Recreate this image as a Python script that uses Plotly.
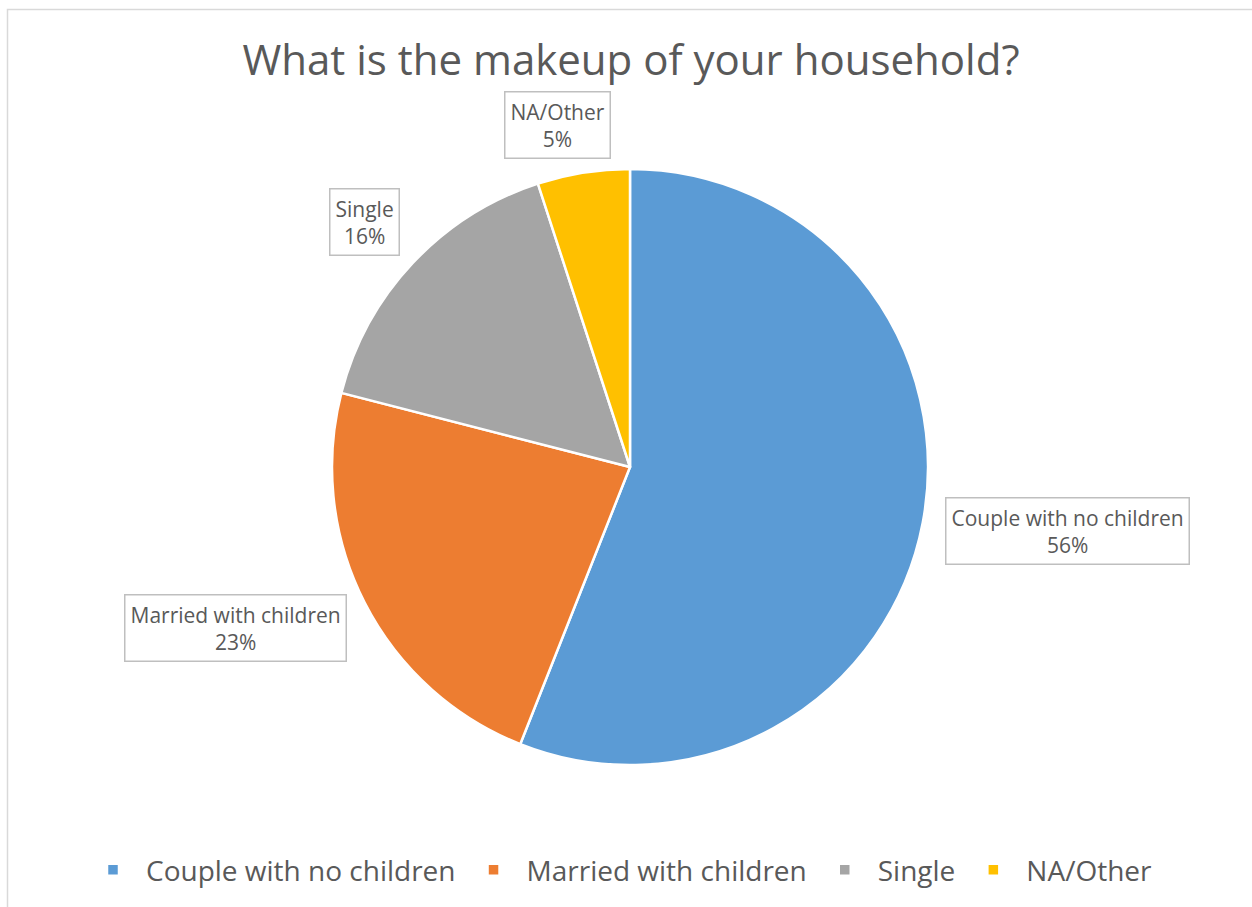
import plotly.graph_objects as go

categories = ["Couple with no children", "Married with children", "Single", "NA/Other"]
values = [56, 23, 16, 5]
colors = ["#5B9BD5", "#ED7D31", "#A5A5A5", "#FFC000"]
pct_labels = ["56%", "23%", "16%", "5%"]
# label box centers in pixels (x, y from top)
label_pos = [(1067, 531), (235, 628), (364, 222), (557, 125)]

W, H = 1252, 907
cx, cy, r = 630, 467, 298

fig = go.Figure(go.Pie(
    labels=categories, values=values, sort=False, direction="clockwise", rotation=0,
    marker=dict(colors=colors, line=dict(color="white", width=2.5)),
    textinfo="none", hoverinfo="label+percent",
    domain=dict(x=[(cx - r) / W, (cx + r) / W], y=[(H - cy - r) / H, (H - cy + r) / H]),
))

for cat, pct, (px, py) in zip(categories, pct_labels, label_pos):
    fig.add_annotation(
        x=px / W, y=1 - py / H, xref="paper", yref="paper",
        xanchor="center", yanchor="middle",
        text=f"{cat}<br>{pct}", showarrow=False, align="center",
        font=dict(family="Open Sans", size=21, color="#595959"),
        bordercolor="#BFBFBF", borderwidth=1.5, borderpad=5, bgcolor="white",
    )

fig.add_shape(type="rect", xref="paper", yref="paper",
              x0=7.5 / W, x1=1.02, y0=-0.02, y1=1 - 9.5 / H,
              line=dict(color="#D9D9D9", width=1.5), layer="below")

fig.update_layout(
    width=W, height=H,
    margin=dict(l=0, r=0, t=0, b=0),
    paper_bgcolor="white", plot_bgcolor="white",
    title=dict(text="What is the makeup of your household?", x=631 / W, xanchor="center",
               y=1 - 60 / H, yanchor="middle",
               font=dict(family="Open Sans", size=42, color="#595959")),
    showlegend=True,
    legend=dict(orientation="h", x=619 / W, xanchor="center", y=1 - 870 / H, yanchor="middle",
                font=dict(family="Open Sans", size=28, color="#595959"),
                itemwidth=56, itemclick=False, traceorder="normal"),
)

fig.write_html("out.html", config={"displayModeBar": False},
               post_script="document.body.style.margin='0';")
